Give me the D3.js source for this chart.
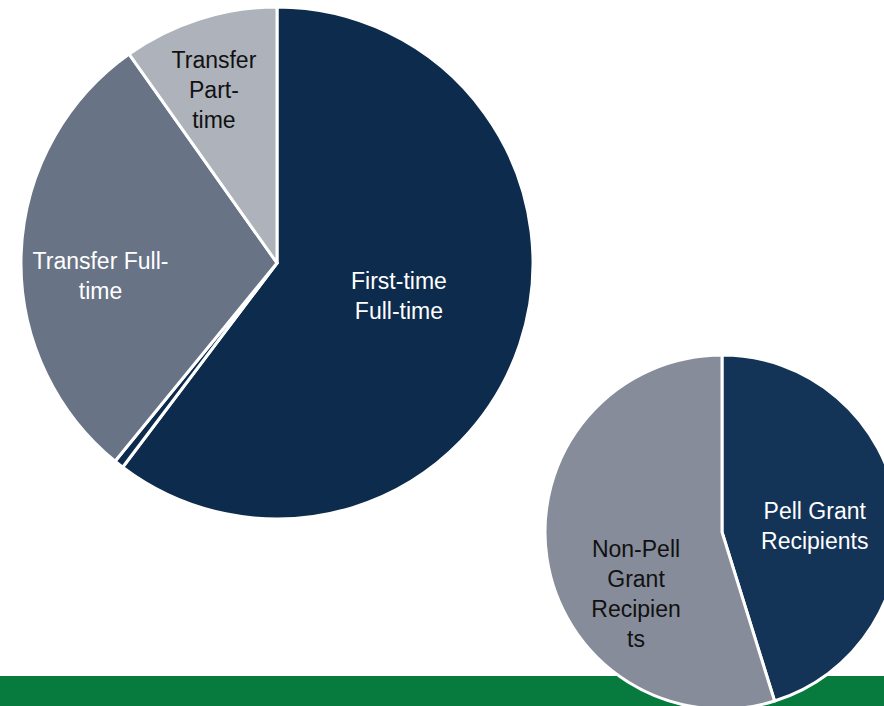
<!DOCTYPE html>
<html>
<head>
<meta charset="utf-8">
<script src="https://cdn.jsdelivr.net/npm/d3@7"></script>
<style>
  body { margin: 0; background: #fff; }
  svg text { font-family: "Liberation Sans", Arial, sans-serif; font-size: 23px; }
</style>
</head>
<body>
<div class="chart"></div>
<script>
// Chart data
var enrollCategories = ["First-time Full-time", "First-time Part-time", "Transfer Full-time", "Transfer Part-time"];
var enrollValues = [60.3, 0.6, 29.3, 9.8];
var enrollLabels = [["First-time", "Full-time"], [], ["Transfer Full-", "time"], ["Transfer", "Part-", "time"]];

var pellCategories = ["Pell Grant Recipients", "Non-Pell Grant Recipients"];
var pellValues = [45.2, 54.8];
var pellLabels = [["Pell Grant", "Recipients"], ["Non-Pell", "Grant", "Recipien", "ts"]];

// Chart params
var svgWidth = 884;
var svgHeight = 706;

var svg = d3.select(".chart")
  .append("svg")
  .attr("width", svgWidth)
  .attr("height", svgHeight);

// green footer band
svg.append("rect")
  .attr("x", 0)
  .attr("y", 676)
  .attr("width", svgWidth)
  .attr("height", 30)
  .attr("fill", "#077a3d");

var pie = d3.pie().sort(null).value(d => d);

function drawPie(cx, cy, r, values, colors, labels, labelR, textColors, nudges) {
  var g = svg.append("g").attr("transform", `translate(${cx}, ${cy})`);
  var arc = d3.arc().innerRadius(0).outerRadius(r);
  var arcs = pie(values);

  g.selectAll("path")
    .data(arcs)
    .enter()
    .append("path")
    .attr("d", arc)
    .attr("fill", (d, i) => colors[i])
    .attr("stroke", "#fff")
    .attr("stroke-width", 3)
    .attr("stroke-linejoin", "round");

  arcs.forEach(function(d, i) {
    if (!labels[i].length) return;
    var la = d3.arc().innerRadius(r * labelR[i]).outerRadius(r * labelR[i]);
    var c = la.centroid(d);
    var n = nudges[i] || [0, 0];
    var lines = labels[i];
    var lh = 30;
    var t = g.append("text")
      .attr("text-anchor", "middle")
      .attr("fill", textColors[i]);
    lines.forEach(function(line, j) {
      t.append("tspan")
        .attr("x", c[0] + n[0])
        .attr("y", c[1] + n[1] + (j - (lines.length - 1) / 2) * lh + 8)
        .text(line);
    });
  });
}

// enrollment pie
drawPie(277, 263, 256, enrollValues,
  ["#0d2b4c", "#0d2b4c", "#687386", "#adb2bb"],
  enrollLabels,
  [0.49, 0.5, 0.69, 0.71],
  ["#fff", "#fff", "#fff", "#111"],
  [[3, -7], [0, 0], [0, 19], [-8, 0]]);

// pell pie
drawPie(722, 532, 177, pellValues,
  ["#133357", "#868c99"],
  pellLabels,
  [0.53, 0.6],
  ["#fff", "#111"],
  [[0, 8], [19, 46]]);
</script>
</body>
</html>
